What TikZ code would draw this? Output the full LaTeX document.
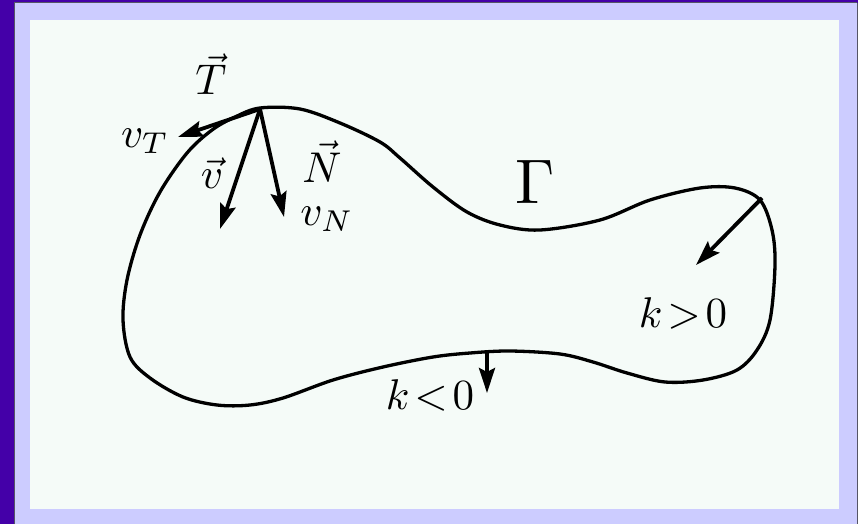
\documentclass[tikz,border=0pt]{standalone}
\usetikzlibrary{arrows.meta}
\definecolor{darkpurple}{HTML}{4400A8}
\definecolor{lavender}{HTML}{CCCCFF}
\definecolor{panel}{HTML}{F5FBF8}
\definecolor{edgegrey}{HTML}{555566}
\tikzset{
  curve/.style={line width=3.3pt, line join=round},
  vecarrow/.style={line width=3.8pt, -{Stealth[length=25pt,width=16pt,inset=4pt]}},
  lbl/.style={inner sep=0pt, anchor=base, scale=4.3},
  biglbl/.style={inner sep=0pt, anchor=base, scale=6.3}
}
\begin{document}
\begin{tikzpicture}[x=1pt,y=-1pt]
\useasboundingbox (0,0) rectangle (858,524);
% background frame
\fill[darkpurple] (0,0) rectangle (858,524);
\fill[lavender] (14,3) rectangle (857,524);
\draw[edgegrey, line width=1pt] (14,524) -- (14,3) -- (857,3);
\fill[edgegrey] (857,3) rectangle (858,524);
\fill[panel] (30,20) rectangle (839,509);
% closed curve Gamma
\draw[curve] plot[smooth cycle, tension=0.55] coordinates {
 (260,108) (300,109) (340,123) (380,142) (400,158) (433,187) (467,212)
 (500,225) (540,230) (600,220) (650,200) (700,188) (735,188) (760,200)
 (772,230) (775,265) (770,320) (757,350) (737,370) (703,380) (665,382)
 (627,373) (593,362) (560,354) (510,351) (470,353) (433,357) (383,367)
 (333,380) (283,398) (250,405) (217,405) (183,397) (150,378) (130,357)
 (123,320) (127,280) (140,235) (160,192) (187,153) (212,130) (235,117)};
% coordinates of arrows
\coordinate (P) at (260,109);
\coordinate (vTend) at (178,137);
\coordinate (vend) at (220,229);
\coordinate (Nend) at (284,217);
\coordinate (R) at (762,198);
\coordinate (Rend) at (696,265);
\coordinate (B) at (487,352);
\coordinate (Bend) at (487,393);
\draw[vecarrow] (P) -- (vTend);
\draw[vecarrow] (P) -- (vend);
\draw[vecarrow] (P) -- (Nend);
\draw[vecarrow] (R) -- (Rend);
\draw[vecarrow] (B) -- (Bend);
% labels
\node[lbl] (Tlab) at (211,95) {$\vec T$};
\node[lbl] (vTlab) at (145,147) {$v_T$};
\node[lbl] (vlab) at (212,188) {$\vec v$};
\node[lbl] (Nlab) at (322,182) {$\vec N$};
\node[lbl] (vNlab) at (327,225) {$v_N$};
\node[biglbl] (Glab) at (535,203) {$\Gamma$};
\node[lbl] (kpos) at (683,327) {$k\!>\!0$};
\node[lbl] (kneg) at (430,409) {$k\!<\!0$};
\end{tikzpicture}
\end{document}
